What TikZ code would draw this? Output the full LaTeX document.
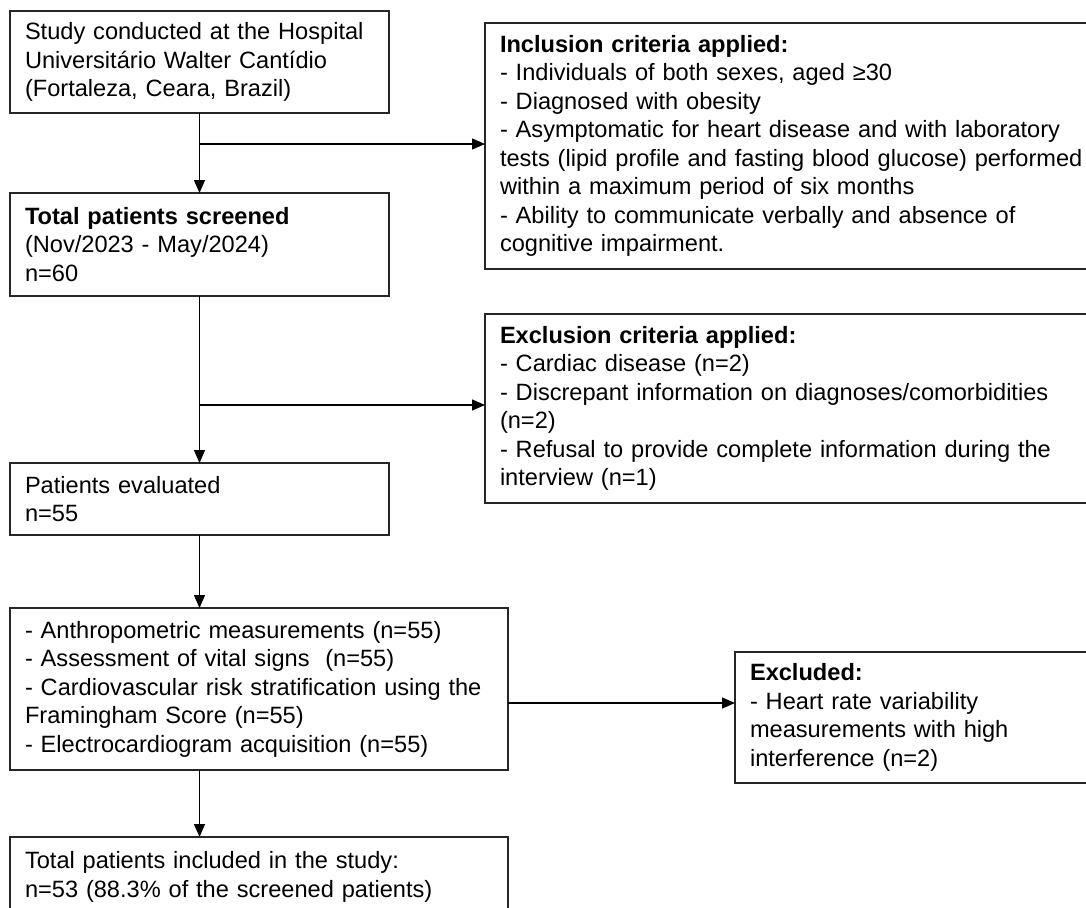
\documentclass[tikz,border=0pt]{standalone}
\usepackage{fontspec}
\setmainfont{Liberation Sans}
\usetikzlibrary{arrows.meta}
\newcommand{\bxfont}{\fontsize{23.6}{28.5}\selectfont\hyphenpenalty=10000\relax\exhyphenpenalty=10000\relax}
\begin{document}
\begin{tikzpicture}[x=1pt,y=-1pt,
  box/.style={draw=black!85, line width=1.3pt, anchor=north west, outer sep=0pt,
    inner xsep=15pt, inner ysep=0pt, align=left, font=\bxfont},
  arr/.style={line width=1.3pt, -{Triangle[length=13pt,width=11pt]}}]
\fill[white] (0,0) rectangle (1086,907);
\useasboundingbox (0,0) rectangle (1086,907);
\clip (0,0) rectangle (1086,907);

\node[box, minimum width=379pt, text width=349pt, minimum height=102pt] (b1) at (10,11)
  {Study conducted at the Hospital\\Universitário Walter Cantídio\\(Fortaleza, Ceara, Brazil)};
\node[box, minimum width=379pt, text width=349pt, minimum height=103pt] (b2) at (10,193)
  {\textbf{Total patients screened}\\(Nov/2023 - May/2024)\\n=60};
\node[box, minimum width=630pt, text width=600pt, minimum height=246pt] (inc) at (485,23)
  {\textbf{Inclusion criteria applied:}\\- Individuals of both sexes, aged ≥30\\- Diagnosed with obesity\\- Asymptomatic for heart disease and with laboratory\\tests (lipid profile and fasting blood glucose) performed\\within a maximum period of six months\\- Ability to communicate verbally and absence of\\cognitive impairment.};
\node[box, minimum width=379pt, text width=349pt, minimum height=72pt] (b3) at (10,463)
  {Patients evaluated\\n=55};
\node[box, minimum width=630pt, text width=600pt, minimum height=189pt] (exc) at (485,314)
  {\textbf{Exclusion criteria applied:}\\- Cardiac disease (n=2)\\- Discrepant information on diagnoses/comorbidities\\(n=2)\\- Refusal to provide complete information during the\\interview (n=1)};
\node[box, minimum width=498pt, text width=468pt, minimum height=162pt] (b4) at (10,608)
  {- Anthropometric measurements (n=55)\\- Assessment of vital signs\ \ (n=55)\\- Cardiovascular risk stratification using the\\Framingham Score (n=55)\\- Electrocardiogram acquisition (n=55)};
\node[box, minimum width=380pt, text width=350pt, minimum height=131pt] (excl) at (735,652)
  {\textbf{Excluded:}\\- Heart rate variability\\measurements with high\\interference (n=2)};
\node[box, minimum width=498pt, text width=468pt, minimum height=80pt] (b5) at (10,837)
  {Total patients included in the study:\\n=53 (88.3\% of the screened patients)};

\coordinate (j1) at (200,144);
\coordinate (j2) at (200,405);
\coordinate (j3) at (508,703);

\draw[arr] (b1.south) -- (b2.north);
\draw[arr] (j1) -- (j1 -| inc.west);
\draw[arr] (b2.south) -- (b3.north);
\draw[arr] (j2) -- (j2 -| exc.west);
\draw[arr] (b3.south) -- (b3.south |- b4.north);
\draw[arr] (j3) -- (j3 -| excl.west);
\draw[arr] (b3.south |- b4.south) -- (b3.south |- b5.north);
\end{tikzpicture}
\end{document}
